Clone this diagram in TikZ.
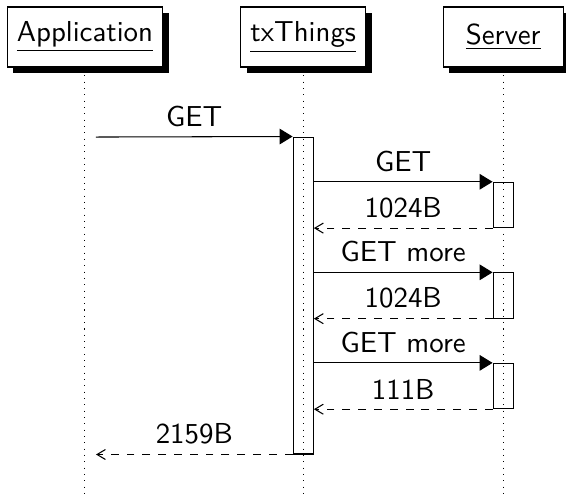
\documentclass[tikz,border=0pt,11pt]{standalone}
\usepackage{tikz}
\usetikzlibrary{shadows,arrows.meta}

\begin{document}
\begin{tikzpicture}[font=\sffamily,
    inst/.style={rectangle, draw, fill=white, minimum width=1.6cm, minimum height=0.8cm, drop shadow={opacity=1, fill=black}},
    lifeline/.style={dotted},
    callbox/.style={rectangle, draw, minimum width=0.27cm, inner sep=0},
    call/.style={-{Triangle[length=4.9pt, width=5.9pt]}},
    ret/.style={dashed, -{Straight Barb[length=3.2pt, width=3.8pt]}}]
    \useasboundingbox (0,0) rectangle (7.547,-6.613);
    \node[inst] (app) at (1.133,-0.493) {\underline{Application}};
    \node[inst] (tx) at (4.043,-0.493) {\underline{txThings}};
    \node[inst] (srv) at (6.71,-0.493) {\underline{Server}};
    \coordinate (bot) at (0,-6.62);
    \draw[lifeline] ([yshift=-3pt]app.south) -- (app.south |- bot);
    \draw[lifeline] ([yshift=-3pt]tx.south) -- (tx.south |- bot);
    \draw[lifeline] ([yshift=-3pt]srv.south) -- (srv.south |- bot);
    \node[callbox, minimum height=4.226cm] (txcall) at (4.043,-3.94) {};
    \coordinate (appthr) at (1.28,-1.827);
    \draw[call] (appthr) -- (txcall.north west) node[midway, above] (req0) {GET};
    \foreach \i/\req/\resp in {1/GET/1024B, 2/GET more/1024B, 3/GET more/111B} {
        \node[callbox, minimum height=0.6037cm] (srvcall\i) at (6.71,{-2.7325-1.2074*(\i-1)}) {};
        \draw[call] (txcall.east |- srvcall\i.north) -- (srvcall\i.north west) node[midway, above] (req\i) {\req};
        \draw[ret] (srvcall\i.south west) -- (txcall.east |- srvcall\i.south) node[midway, above] (resp\i) {\resp};
    }
    \draw[ret] (txcall.south west) -- (appthr |- txcall.south) node[midway, above] (resp0) {2159B};
\end{tikzpicture}
\end{document}
